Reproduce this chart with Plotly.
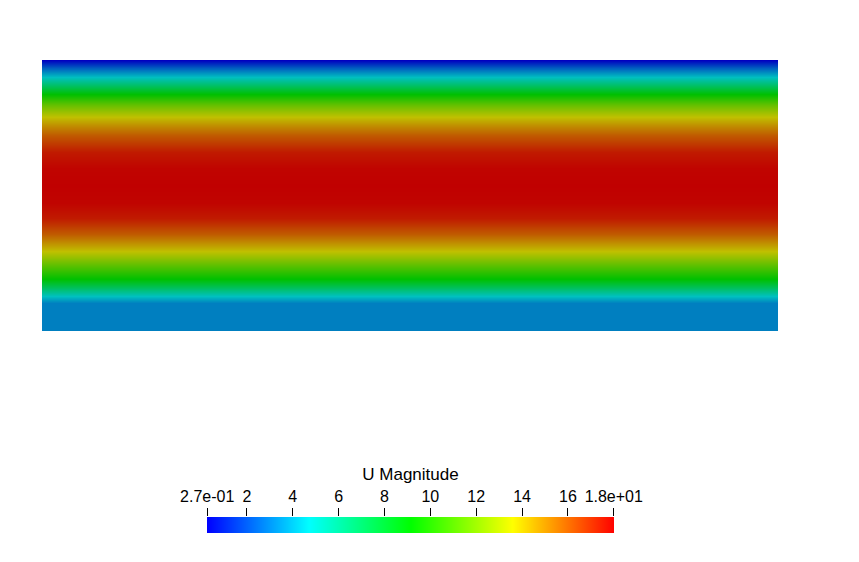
import plotly.graph_objects as go

# Profile of U magnitude across the channel (y measured from bottom edge of view)
y_pos = [0, 28, 35, 43, 52, 66, 80, 97, 113, 128, 145, 162, 178, 195, 204, 213, 225, 236, 244, 253, 262, 270]
u_mag = [3.2, 3.2, 4.7, 6.9, 9.1, 11.3, 13.6, 15.9, 17.4, 17.9, 18.0, 17.9, 17.4, 15.9, 14.8, 13.6, 11.5, 9.1, 7.0, 4.7, 2.5, 0.27]
x_ext = [0, 736]

u_min, u_max = 0.27, 18.0
tick_vals = [0.27, 2, 4, 6, 8, 10, 12, 14, 16, 18]
tick_text = ["2.7e-01", "2", "4", "6", "8", "10", "12", "14", "16", "1.8e+01"]

bright = [[0.0, "rgb(0,0,255)"], [0.25, "rgb(0,255,255)"], [0.5, "rgb(0,255,0)"],
          [0.75, "rgb(255,255,0)"], [1.0, "rgb(255,0,0)"]]
lit = [[0.0, "rgb(0,0,192)"], [0.25, "rgb(0,192,192)"], [0.5, "rgb(0,192,0)"],
       [0.75, "rgb(192,192,0)"], [1.0, "rgb(192,0,0)"]]

W, H = 859, 562
OX, OY = 8, 8  # page body offset


def fx(px):
    return (px - OX) / W


def fy(py):
    return 1 - (py - OY) / H


fig = go.Figure()
fig.add_trace(go.Heatmap(
    x=x_ext, y=y_pos, z=[[v, v] for v in u_mag],
    zmin=u_min, zmax=u_max, colorscale=lit, zsmooth="best",
    showscale=False, hoverinfo="skip", xaxis="x", yaxis="y"))
fig.add_trace(go.Heatmap(
    x=[u_min, u_max], y=[0, 1], z=[[u_min, u_max], [u_min, u_max]],
    zmin=u_min, zmax=u_max, colorscale=bright, zsmooth="best",
    showscale=False, hoverinfo="skip", xaxis="x2", yaxis="y2"))

font = "Liberation Sans, Arial, sans-serif"
fig.update_layout(
    width=W, height=H, autosize=False,
    margin=dict(l=0, r=0, t=0, b=0, pad=0, autoexpand=False),
    paper_bgcolor="white", plot_bgcolor="white", showlegend=False,
    xaxis=dict(domain=[fx(42), fx(778)], range=x_ext, visible=False, fixedrange=True, automargin=False),
    yaxis=dict(domain=[fy(331), fy(60)], range=[y_pos[0], y_pos[-1]], visible=False,
               fixedrange=True, automargin=False),
    xaxis2=dict(domain=[fx(207), fx(614)], range=[u_min - 0.01, u_max + 0.01], anchor="y2",
                side="top", ticks="outside", ticklen=8, tickwidth=1, tickcolor="black",
                tickvals=tick_vals, ticktext=tick_text, showgrid=False, zeroline=False,
                showline=False, automargin=False, fixedrange=True,
                tickfont=dict(family=font, size=16, color="black"),
                title=dict(text="U Magnitude", font=dict(family=font, size=17, color="black"), standoff=2)),
    yaxis2=dict(domain=[fy(533), fy(517)], range=[0, 1], anchor="x2", visible=False,
                fixedrange=True, automargin=False),
)
fig.write_html("out.html")
